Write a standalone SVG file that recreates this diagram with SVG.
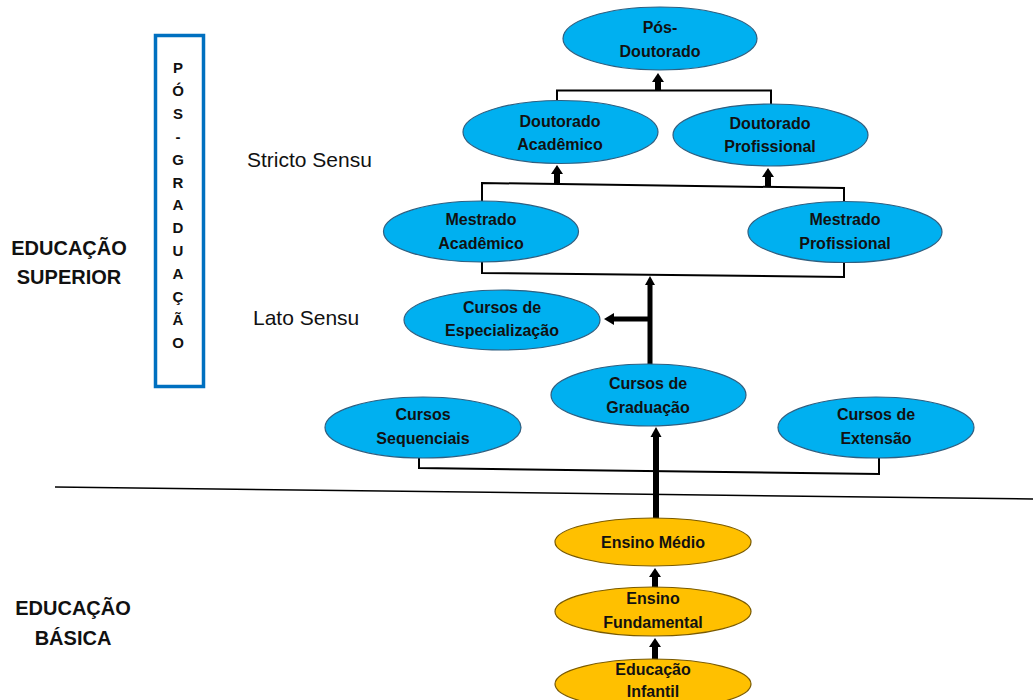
<svg xmlns="http://www.w3.org/2000/svg" width="1033" height="700" viewBox="0 0 1033 700">
<style>
.blue{fill:#00B0F0;stroke:#2F5F80;stroke-width:1.2}
.orange{fill:#FFC000;stroke:#7A5A00;stroke-width:1.2}
.nt{font-family:"Liberation Sans",Arial,sans-serif;font-weight:bold;font-size:16px;fill:#111;text-anchor:middle}
.lbl{font-family:"Liberation Sans",Arial,sans-serif;font-size:21px;fill:#111}
.big{font-family:"Liberation Sans",Arial,sans-serif;font-weight:bold;font-size:20px;fill:#111;text-anchor:middle}
.vt{font-family:"Liberation Sans",Arial,sans-serif;font-weight:bold;font-size:15px;fill:#111;text-anchor:middle}
.thin{fill:none;stroke:#000;stroke-width:2}
.arr{fill:#000;stroke:none}
</style>
<rect width="1033" height="700" fill="#fff"/>

<g id="labels">
<text class="big" x="69" y="255">EDUCAÇÃO</text>
<text class="big" x="69" y="284">SUPERIOR</text>
<text class="big" x="73" y="615">EDUCAÇÃO</text>
<text class="big" x="73" y="645">BÁSICA</text>
<text class="lbl" x="247" y="167">Stricto Sensu</text>
<text class="lbl" x="253" y="325">Lato Sensu</text>
</g>

<g id="pos-graduacao-box">
<rect x="155.5" y="35.5" width="48" height="351" fill="#fff" stroke="#0070C0" stroke-width="3.5"/>
<text class="vt" x="178" y="73">P</text>
<text class="vt" x="178" y="96">Ó</text>
<text class="vt" x="178" y="119">S</text>
<text class="vt" x="178" y="142">-</text>
<text class="vt" x="178" y="165">G</text>
<text class="vt" x="178" y="188">R</text>
<text class="vt" x="178" y="210">A</text>
<text class="vt" x="178" y="233">D</text>
<text class="vt" x="178" y="256">U</text>
<text class="vt" x="178" y="279">A</text>
<text class="vt" x="178" y="302">Ç</text>
<text class="vt" x="178" y="325">Ã</text>
<text class="vt" x="178" y="348">O</text>
</g>

<g id="connectors">
<line x1="55" y1="487" x2="1033" y2="499" stroke="#000" stroke-width="1.5"/>
<polyline class="thin" points="557,100 557,90.5 771,90.5 771,104"/>
<polyline class="thin" points="482,202 482,183 844,188 844,203"/>
<polyline class="thin" points="482,262 482,273 844,277 844,263"/>
<polyline class="thin" points="419,457 419,468 879,474 879,457"/>
<!-- thick arrows -->
<rect class="arr" x="655" y="82" width="6" height="9"/><polygon class="arr" points="658,73 664,82 652,82"/>
<rect class="arr" x="554" y="174" width="6" height="10"/><polygon class="arr" points="557,165 563,174 551,174"/>
<rect class="arr" x="765" y="177" width="6" height="10"/><polygon class="arr" points="768,168 774,177 762,177"/>
<rect class="arr" x="647.5" y="285" width="5" height="80"/><polygon class="arr" points="650,276 655,285 645,285"/>
<rect class="arr" x="613" y="316.5" width="37" height="5"/><polygon class="arr" points="604,319 614,313 614,325"/>
<rect class="arr" x="653" y="437" width="6" height="82"/><polygon class="arr" points="656,427 661.5,437 650.5,437"/>
<rect class="arr" x="652" y="577" width="6" height="11"/><polygon class="arr" points="655,568 661,577 649,577"/>
<rect class="arr" x="652" y="647" width="6" height="13"/><polygon class="arr" points="655,638 661,647 649,647"/>
</g>

<g id="pos-doutorado">
<ellipse class="blue" cx="660" cy="38.5" rx="97" ry="31.5"/>
<text class="nt" x="660" y="33">Pós-</text>
<text class="nt" x="660" y="57">Doutorado</text>
</g>
<g id="doutorado-academico">
<ellipse class="blue" cx="560.5" cy="132" rx="97.5" ry="31.5"/>
<text class="nt" x="560" y="127">Doutorado</text>
<text class="nt" x="560" y="150">Acadêmico</text>
</g>
<g id="doutorado-profissional">
<ellipse class="blue" cx="770.5" cy="135" rx="97.5" ry="31"/>
<text class="nt" x="770" y="129">Doutorado</text>
<text class="nt" x="770" y="152">Profissional</text>
</g>
<g id="mestrado-academico">
<ellipse class="blue" cx="481" cy="231.5" rx="97.5" ry="30.5"/>
<text class="nt" x="481" y="225">Mestrado</text>
<text class="nt" x="481" y="249">Acadêmico</text>
</g>
<g id="mestrado-profissional">
<ellipse class="blue" cx="845" cy="232" rx="97" ry="30.5"/>
<text class="nt" x="845" y="225">Mestrado</text>
<text class="nt" x="845" y="249">Profissional</text>
</g>
<g id="cursos-especializacao">
<ellipse class="blue" cx="502" cy="320" rx="98" ry="30"/>
<text class="nt" x="502" y="313">Cursos de</text>
<text class="nt" x="502" y="336">Especialização</text>
</g>
<g id="cursos-graduacao">
<ellipse class="blue" cx="648.5" cy="395" rx="97.5" ry="31"/>
<text class="nt" x="648" y="389">Cursos de</text>
<text class="nt" x="648" y="413">Graduação</text>
</g>
<g id="cursos-sequenciais">
<ellipse class="blue" cx="423" cy="427.5" rx="98" ry="30.5"/>
<text class="nt" x="423" y="420">Cursos</text>
<text class="nt" x="423" y="444">Sequenciais</text>
</g>
<g id="cursos-extensao">
<ellipse class="blue" cx="876" cy="427.5" rx="98" ry="30.5"/>
<text class="nt" x="876" y="420">Cursos de</text>
<text class="nt" x="876" y="444">Extensão</text>
</g>
<g id="ensino-medio">
<ellipse class="orange" cx="653" cy="542" rx="98" ry="24"/>
<text class="nt" x="653" y="548">Ensino Médio</text>
</g>
<g id="ensino-fundamental">
<ellipse class="orange" cx="653" cy="611.5" rx="98" ry="24.5"/>
<text class="nt" x="653" y="604">Ensino</text>
<text class="nt" x="653" y="628">Fundamental</text>
</g>
<g id="educacao-infantil">
<ellipse class="orange" cx="653" cy="684" rx="98" ry="25"/>
<text class="nt" x="653" y="675">Educação</text>
<text class="nt" x="653" y="697">Infantil</text>
</g>
</svg>
